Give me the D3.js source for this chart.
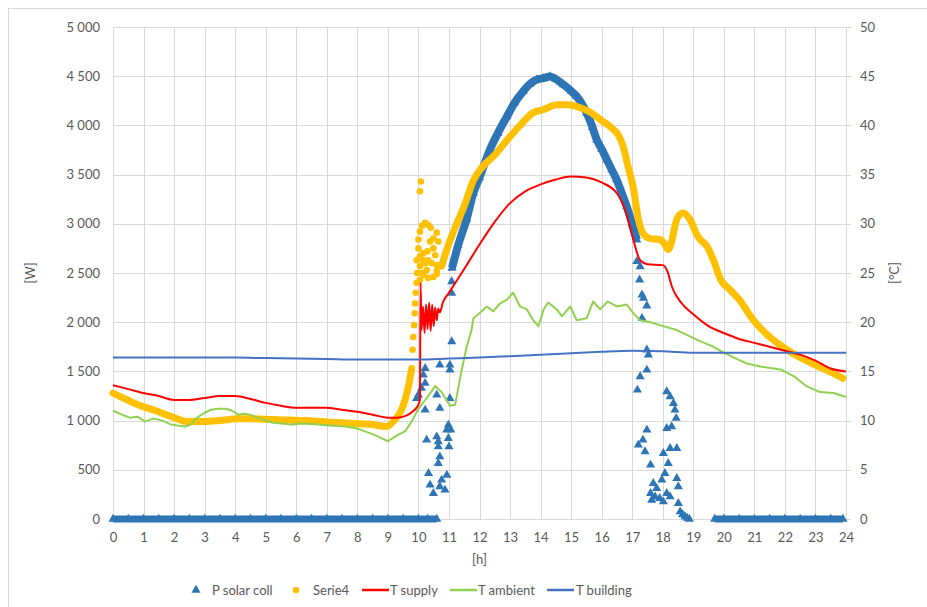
<!DOCTYPE html>
<html>
<head>
<meta charset="utf-8">
<script src="https://cdn.jsdelivr.net/npm/d3@7"></script>
<style>
    body { margin: 0; background: #fff; }
    text { font-family: Lato, "Open Sans", sans-serif; fill: #595959; }
</style>
</head>
<body>
<div id="chart"></div>
<script>
// [hour, value] pairs
var pSolarZeroA = [[0,0],[0.5,0],[1,0],[1.5,0],[2,0],[2.5,0],[3,0],[3.5,0],[4,0],[4.5,0],[5,0],[5.5,0],[6,0],[6.5,0],[7,0],[7.5,0],[8,0],[8.5,0],[9,0],[9.5,0],[10,0],[10.3,0],[10.6,0]];
var pSolarBand = [[11.1,2550],[11.3,2780],[11.58,3050],[11.8,3312],[12.0,3470],[12.34,3753],[12.6,3920],[12.9,4091],[13.15,4230],[13.43,4346],[13.65,4420],[13.87,4465],[14.1,4480],[14.31,4498],[14.5,4470],[14.75,4414],[15.0,4350],[15.18,4295],[15.35,4220],[15.51,4126],[15.7,3980],[15.84,3854],[16.0,3760],[16.17,3651],[16.33,3550],[16.49,3448],[16.65,3320],[16.82,3176],[17.0,3000],[17.15,2837]];
var pSolarScatter = [[9.94,1227],[10.0,1261],[10.1,1329],[10.22,1380],[10.16,1464],[10.22,1532],[10.7,1566],[11.03,1566],[11.03,1515],[11.09,1803],[10.6,1261],[11.03,1227],[10.22,1108],[10.7,1126],[10.98,956],[10.93,905],[11.06,905],[10.27,803],[10.6,837],[10.65,786],[10.98,820],[10.65,735],[11.0,735],[10.7,633],[10.65,566],[10.33,464],[10.93,447],[10.38,346],[10.76,397],[10.49,261],[10.87,295],[10.7,330],[11.09,2295],[11.09,2413],
    [17.15,2617],[17.26,2566],[17.24,2431],[17.32,2278],[17.37,2244],[17.48,2166],[17.32,2041],[17.48,1719],[17.53,1668],[17.48,1515],[17.26,1447],[17.17,1312],[18.13,1295],[18.24,1244],[18.35,1176],[18.4,1108],[18.44,1024],[18.13,922],[18.29,939],[17.48,905],[17.35,803],[17.2,753],[17.42,685],[18.02,668],[18.24,719],[18.46,719],[17.6,549],[18.18,566],[18.07,464],[18.46,414],[18.51,329],[17.69,363],[17.8,312],[17.97,397],[17.6,261],[17.75,227],[17.9,210],[18.13,261],[18.24,227],[17.64,193],[18.02,176],[18.51,160],[18.57,74],[18.65,45],[18.73,24],[18.8,10],[18.87,0]];
var pSolarZeroB = [[19.7,0],[20,0],[20.5,0],[21,0],[21.5,0],[22,0],[22.5,0],[23,0],[23.5,0],[23.9,0]];

var serie4LineA = [[0,12.8],[0.4,12.2],[0.82,11.6],[1.4,11.0],[1.92,10.4],[2.46,9.9],[3.0,9.9],[3.5,10.0],[4.1,10.2],[4.6,10.2],[5.2,10.1],[5.8,10.05],[6.3,10.0],[6.8,9.9],[7.37,9.8],[7.9,9.7],[8.47,9.6],[8.96,9.4],[9.2,10.0],[9.4,10.8],[9.55,12.0],[9.68,13.6],[9.78,15.3]];
var serie4Scatter = [[9.81,17.2],[9.83,18.5],[9.86,19.7],[9.88,20.9],[9.89,21.9],[9.91,23.0],[9.94,24.0],[9.96,25.0],[9.94,26.3],[10.0,27.5],[10.0,28.4],[10.05,29.2],[10.05,33.3],[10.08,34.3],[10.22,30.1],[10.32,29.9],[10.49,28.5],[10.6,29.1],[10.65,28.2],[10.38,28.2],[10.49,27.5],[10.16,27.0],[10.05,26.7],[10.32,26.3],[10.22,26.0],[10.43,26.0],[10.6,25.8],[10.05,25.7],[10.16,24.8],[10.32,24.5],[10.49,24.6],[10.6,25.2],[10.05,24.3],[10.16,26.3],[10.1,25.0],[10.27,25.3],[10.55,26.8],[10.4,29.6],[10.12,29.8],[10.3,27.2],[10.6,24.9]];
var serie4LineB = [[10.76,25.7],[10.93,27.4],[11.2,29.6],[11.5,31.8],[11.8,34.4],[12.1,35.8],[12.5,37.0],[12.9,38.5],[13.3,39.9],[13.76,41.3],[14.1,41.6],[14.53,42.1],[14.9,42.1],[15.3,41.8],[15.65,41.3],[15.95,40.6],[16.38,39.6],[16.55,39.0],[16.7,37.9],[16.85,36.0],[17.04,33.6],[17.2,30.5],[17.36,29.0],[17.58,28.5],[17.9,28.4],[18.05,28.0],[18.18,27.4],[18.3,28.3],[18.4,29.8],[18.5,30.7],[18.67,31.1],[18.9,30.4],[19.1,29.0],[19.2,28.5],[19.45,27.7],[19.66,26.3],[19.9,24.3],[20.2,23.3],[20.5,22.3],[20.97,20.2],[21.5,18.5],[22.17,17.0],[22.9,15.8],[23.45,15.0],[23.9,14.3]];

var tSupply = [[0,13.6],[0.5,13.2],[1,12.8],[1.5,12.5],[2,12.1],[2.5,12.1],[3,12.3],[3.5,12.5],[4,12.5],[4.5,12.2],[5,11.8],[5.5,11.5],[6,11.3],[6.5,11.3],[7,11.3],[7.5,11.1],[8,10.9],[8.5,10.6],[9,10.3],[9.3,10.3],[9.6,10.5],[9.8,10.9],[10,11.6],[10.05,12.2],[10.07,24.0],[10.1,19.2],[10.15,21.6],[10.2,18.9],[10.25,21.8],[10.3,19.3],[10.35,22.0],[10.4,19.1],[10.45,21.8],[10.5,19.6],[10.55,21.5],[10.6,20.2],[10.65,21.4],[10.7,21.0],[10.8,22.0],[11,23.0],[11.5,25.4],[12,27.9],[12.5,30.2],[13,32.1],[13.5,33.3],[14,34.0],[14.5,34.5],[15,34.8],[15.5,34.7],[16,34.2],[16.5,33.1],[16.8,31.1],[17,28.8],[17.26,26.3],[17.5,25.9],[18,25.8],[18.15,25.2],[18.3,23.6],[18.6,22.0],[19,20.8],[19.5,19.6],[20,18.9],[20.5,18.3],[21,17.9],[21.5,17.5],[22,17.1],[22.5,16.7],[23,16.1],[23.5,15.3],[24,15.0]];
var tAmbient = [[0,11.0],[0.3,10.6],[0.55,10.3],[0.8,10.4],[1.05,9.9],[1.3,10.2],[1.5,10.1],[1.7,9.9],[1.9,9.6],[2.1,9.5],[2.36,9.4],[2.55,9.6],[2.68,10.1],[2.85,10.5],[3.0,10.8],[3.2,11.1],[3.45,11.2],[3.7,11.2],[3.9,11.0],[4.1,10.6],[4.3,10.7],[4.5,10.6],[4.8,10.2],[5.2,9.8],[5.5,9.7],[5.85,9.6],[6.2,9.7],[6.7,9.6],[7.1,9.5],[7.6,9.4],[8.0,9.2],[8.25,8.9],[8.6,8.5],[9.0,7.9],[9.3,8.5],[9.56,8.9],[9.8,10.0],[10.0,11.2],[10.3,12.4],[10.55,13.5],[10.76,12.9],[11.03,11.5],[11.2,11.6],[11.42,15.2],[11.58,17.5],[11.74,19.2],[11.8,20.4],[12.0,20.9],[12.24,21.6],[12.45,21.1],[12.67,21.9],[12.9,22.3],[13.1,23.0],[13.33,21.6],[13.55,21.3],[13.76,20.2],[13.93,19.6],[14.1,21.3],[14.25,22.0],[14.53,21.3],[14.7,20.6],[14.97,21.6],[15.18,20.2],[15.51,20.4],[15.72,22.1],[15.95,21.3],[16.2,22.1],[16.5,21.6],[16.82,21.8],[17.04,20.9],[17.26,20.2],[17.6,20.0],[17.9,19.7],[18.46,19.2],[19.2,18.1],[19.6,17.6],[20.0,16.9],[20.4,16.3],[20.75,15.8],[21.2,15.5],[21.85,15.2],[22.3,14.5],[22.7,13.5],[23.15,12.9],[23.6,12.8],[24,12.4]];
var tBuilding = [[0,16.4],[2,16.4],[4,16.4],[5,16.35],[6,16.3],[7,16.25],[8,16.2],[9,16.2],[10,16.2],[11,16.3],[12,16.4],[13,16.55],[14,16.7],[15,16.85],[16,17.0],[17,17.1],[18,17.05],[19,16.9],[20,16.9],[22,16.9],[24,16.9]];

var hourTicks = d3.range(0, 25);
var legendNames = ["P solar coll", "Serie4", "T supply", "T ambient", "T building"];

var colSolar = "#2E75B6", colSerie4 = "#FFC000", colSupply = "#FF0000", colAmbient = "#92D050", colBuilding = "#4472C4";

var margin = {top: 27, right: 81, bottom: 88, left: 113},
    width = 927 - margin.left - margin.right,
    height = 607 - margin.top - margin.bottom;

var root = d3.select("#chart")
    .append("svg")
    .attr("width", 927)
    .attr("height", 607);

root.append("rect")
    .attr("x", 8.5).attr("y", 8.5)
    .attr("width", 940).attr("height", 620)
    .attr("fill", "none")
    .attr("stroke", "#D9D9D9");

var svg = root.append("g")
    .attr("transform", "translate(" + margin.left + "," + margin.top + ")");

var x = d3.scaleLinear().domain([0, 24]).range([0, width]);
var yW = d3.scaleLinear().domain([0, 5000]).range([height, 0]);
var yT = d3.scaleLinear().domain([0, 50]).range([height, 0]);

// grid
svg.selectAll(".hgrid")
    .data(yW.ticks(10))
    .enter().append("line")
    .attr("x1", 0).attr("x2", width)
    .attr("y1", function(d) { return Math.round(yW(d)) + 0.5; })
    .attr("y2", function(d) { return Math.round(yW(d)) + 0.5; })
    .attr("stroke", "#D9D9D9");

svg.selectAll(".vgrid")
    .data(hourTicks)
    .enter().append("line")
    .attr("y1", 0).attr("y2", height)
    .attr("x1", function(d) { return Math.round(x(d)) + 0.5; })
    .attr("x2", function(d) { return Math.round(x(d)) + 0.5; })
    .attr("stroke", "#D9D9D9");

// right axis ticks (outward)
svg.selectAll(".rtick")
    .data(yT.ticks(10))
    .enter().append("line")
    .attr("x1", width).attr("x2", width + 5)
    .attr("y1", function(d) { return Math.round(yT(d)) + 0.5; })
    .attr("y2", function(d) { return Math.round(yT(d)) + 0.5; })
    .attr("stroke", "#D9D9D9");

var fmt = function(d) { return d3.format(",")(d).replace(/,/g, " "); };

svg.append("g")
    .call(d3.axisLeft(yW).ticks(10).tickSize(0).tickPadding(13).tickFormat(fmt))
    .call(function(g) { g.select(".domain").remove(); })
    .selectAll("text").style("font-size", "13px").attr("fill", "#595959");

svg.append("g")
    .attr("transform", "translate(" + width + ",0)")
    .call(d3.axisRight(yT).ticks(10).tickSize(0).tickPadding(14))
    .call(function(g) { g.select(".domain").remove(); })
    .selectAll("text").style("font-size", "13px").attr("fill", "#595959");

svg.append("g")
    .attr("transform", "translate(0," + height + ")")
    .call(d3.axisBottom(x).tickValues(hourTicks).tickSize(0).tickPadding(14).tickFormat(d3.format("d")))
    .call(function(g) { g.select(".domain").remove(); })
    .selectAll("text").style("font-size", "13px").attr("fill", "#595959");

// axis titles
svg.append("text")
    .attr("transform", "translate(" + (30 - margin.left) + "," + (height / 2) + ") rotate(-90)")
    .attr("text-anchor", "middle").attr("dy", "0.35em")
    .style("font-size", "13px")
    .text("[W]");

svg.append("text")
    .attr("transform", "translate(" + (width + 48) + "," + (height / 2) + ") rotate(-90)")
    .attr("text-anchor", "middle").attr("dy", "0.35em")
    .style("font-size", "13px")
    .text("[°C]");

svg.append("text")
    .attr("x", width / 2).attr("y", height + 45)
    .attr("text-anchor", "middle")
    .style("font-size", "13px")
    .text("[h]");

var tri = d3.symbol().type(d3.symbolTriangle).size(36);

var lineW = d3.line()
    .x(function(d) { return x(d[0]); })
    .y(function(d) { return yW(d[1]); });
var lineT = d3.line()
    .x(function(d) { return x(d[0]); })
    .y(function(d) { return yT(d[1]); });
var smoothT = d3.line()
    .curve(d3.curveMonotoneX)
    .x(function(d) { return x(d[0]); })
    .y(function(d) { return yT(d[1]); });

// P solar coll (triangles, W axis)
[[pSolarZeroA, 7], [pSolarBand, 8], [pSolarZeroB, 7]].forEach(function(s) {
    svg.append("path")
        .datum(s[0])
        .attr("d", lineW.curve(d3.curveMonotoneX))
        .attr("fill", "none")
        .attr("stroke", colSolar)
        .attr("stroke-width", s[1]);
});

var allSolar = pSolarZeroA.concat(pSolarBand, pSolarScatter, pSolarZeroB);
svg.selectAll(".tri")
    .data(allSolar)
    .enter().append("path")
    .attr("d", tri)
    .attr("transform", function(d) { return "translate(" + x(d[0]) + "," + yW(d[1]) + ")"; })
    .attr("fill", colSolar);

// Serie4 (dots, °C axis)
[serie4LineA, serie4LineB].forEach(function(s) {
    svg.append("path")
        .datum(s)
        .attr("d", smoothT)
        .attr("fill", "none")
        .attr("stroke", colSerie4)
        .attr("stroke-width", 7)
        .attr("stroke-linecap", "round")
        .attr("stroke-linejoin", "round");
});

svg.selectAll(".dot")
    .data(serie4Scatter)
    .enter().append("circle")
    .attr("cx", function(d) { return x(d[0]); })
    .attr("cy", function(d) { return yT(d[1]); })
    .attr("r", 3.3)
    .attr("fill", colSerie4);

// temperature lines
[[tSupply, colSupply, smoothT], [tAmbient, colAmbient, lineT], [tBuilding, colBuilding, smoothT]].forEach(function(s) {
    svg.append("path")
        .datum(s[0])
        .attr("d", s[2])
        .attr("fill", "none")
        .attr("stroke", s[1])
        .attr("stroke-width", 2)
        .attr("stroke-linejoin", "round");
});

// legend
var legend = root.append("g").attr("transform", "translate(0,590)");
var lx = [196, 296, 362, 450, 547];

legend.append("path")
    .attr("d", tri)
    .attr("transform", "translate(" + lx[0] + ",0)")
    .attr("fill", colSolar);
legend.append("circle")
    .attr("cx", lx[1]).attr("cy", 0).attr("r", 3.3)
    .attr("fill", colSerie4);
[[lx[2], colSupply], [lx[3], colAmbient], [lx[4], colBuilding]].forEach(function(l) {
    legend.append("line")
        .attr("x1", l[0]).attr("x2", l[0] + 27)
        .attr("y1", 0).attr("y2", 0)
        .attr("stroke", l[1]).attr("stroke-width", 2.5);
});

var textX = [212, 313, 390, 478, 576];
legend.selectAll(".ltxt")
    .data(legendNames)
    .enter().append("text")
    .attr("x", function(d, i) { return textX[i]; })
    .attr("dy", "0.35em")
    .style("font-size", "13px")
    .text(function(d) { return d; });
</script>
</body>
</html>
